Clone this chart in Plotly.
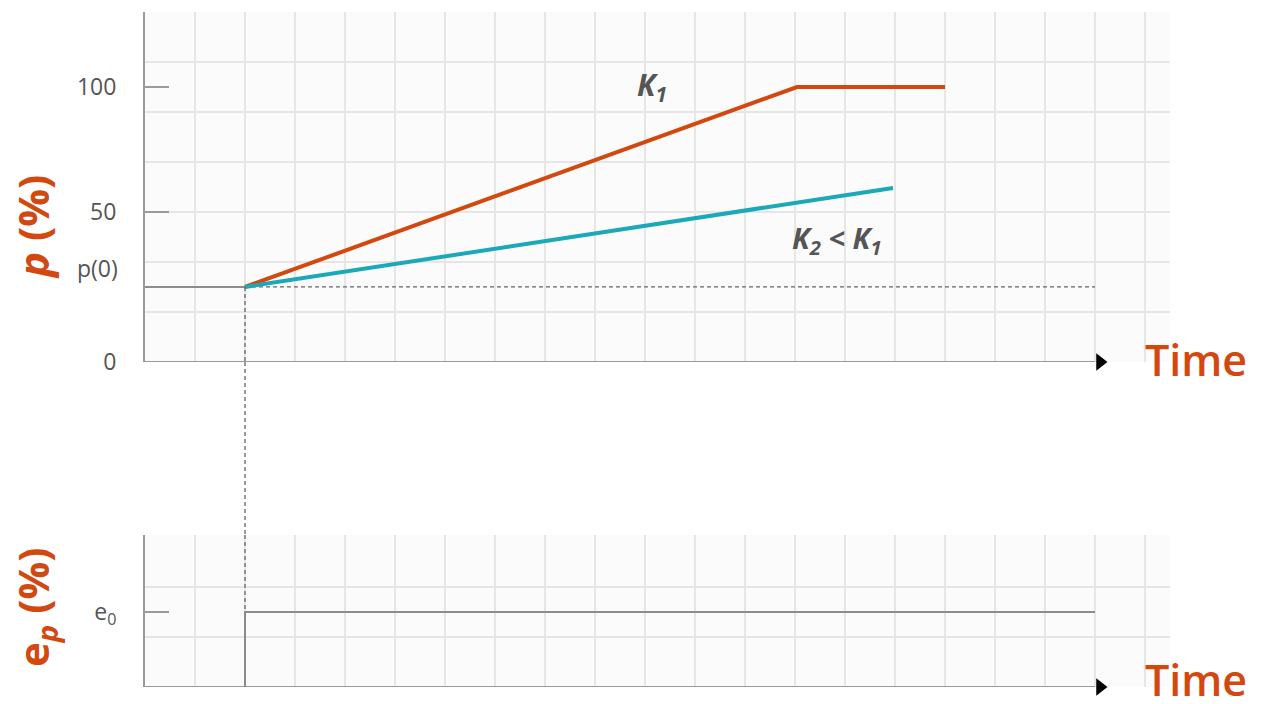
import plotly.graph_objects as go

# ---- data (time in grid steps, p in percent, e in panel units) ----
time_k1 = [2, 13.04, 16]
p_k1 = [27.3, 100, 100]
time_k2 = [2, 14.96]
p_k2 = [27.3, 63.3]
p0 = 27.3
t_start = 2
t_end = 19
e0 = 1.5

p_tick_pos = [0, 54.5, 100]
p_tick_text = ["0", "50", "100"]
e_tick_pos = [0, 1.5]
e_tick_text = ["", "e<sub>0</sub>"]

ORANGE = "#d2480f"
CYAN = "#1ba8b8"
AXIS = "#9a9a9a"
GRID = "#e6e6e6"
TEXT = "#555555"
FONT = "Open Sans"

W, H = 1261, 704
px_per_pct = 2.75          # vertical scale of the upper panel
top_dom = [(H - 362) / H, (H - 12) / H]
bot_dom = [(H - 687) / H, (H - 535) / H]
x_dom = [145 / W, 1170 / W]
x_rng = [0, 20.5]
p_rng = [0, (362 - 12) / px_per_pct]
e_rng = [0, (687 - 535) / 50]

fig = go.Figure()

# axis lines with arrowheads
for ya, yv in (("y", 0), ("y2", 0)):
    xa = "x" if ya == "y" else "x2"
    fig.add_trace(go.Scatter(x=[0, t_end], y=[yv, yv], mode="lines",
                             line=dict(color=AXIS, width=2),
                             xaxis=xa, yaxis=ya, hoverinfo="skip", showlegend=False))
    fig.add_trace(go.Scatter(x=[t_end + 0.1], y=[yv], mode="markers",
                             marker=dict(symbol="triangle-right", size=15, color="black"),
                             xaxis=xa, yaxis=ya, cliponaxis=False,
                             hoverinfo="skip", showlegend=False))

# p(0) reference lines
fig.add_trace(go.Scatter(x=[0, t_start], y=[p0, p0], mode="lines",
                         line=dict(color="#8c8c8c", width=2),
                         hoverinfo="skip", showlegend=False))
fig.add_trace(go.Scatter(x=[t_start, t_end], y=[p0, p0], mode="lines",
                         line=dict(color="#666666", width=1.3, dash="4px,3px"),
                         hoverinfo="skip", showlegend=False))

# controller outputs for two gains
fig.add_trace(go.Scatter(x=time_k1, y=p_k1, mode="lines",
                         line=dict(color=ORANGE, width=4), showlegend=False))
fig.add_trace(go.Scatter(x=time_k2, y=p_k2, mode="lines",
                         line=dict(color=CYAN, width=4), showlegend=False))

# error step
fig.add_trace(go.Scatter(x=[t_start, t_start, t_end], y=[0, e0, e0], mode="lines",
                         line=dict(color="#8c8c8c", width=2),
                         xaxis="x2", yaxis="y2", hoverinfo="skip", showlegend=False))

# vertical dashed marker linking the two panels
dash_line = dict(color="#666666", width=1.3, dash="4px,3px")
fig.add_shape(type="line", xref="x", yref="y", x0=t_start, x1=t_start, y0=p0, y1=0, line=dash_line)
fig.add_shape(type="line", xref="x", yref="paper", x0=t_start, x1=t_start,
              y0=top_dom[0], y1=bot_dom[1], line=dash_line)
fig.add_shape(type="line", xref="x2", yref="y2", x0=t_start, x1=t_start,
              y0=e_rng[1], y1=e0, line=dash_line)

common_x = dict(domain=x_dom, range=x_rng, showgrid=True, gridcolor=GRID, gridwidth=1.5,
                dtick=1, tick0=0, showticklabels=False, ticks="", zeroline=False,
                showline=False, fixedrange=True, automargin=False)

common_y = dict(ticks="inside", ticklen=24, tickwidth=2, tickcolor=AXIS,
                tickfont=dict(size=23, color=TEXT, family=FONT),
                ticklabelstandoff=22, showgrid=False, zeroline=False,
                showline=True, linecolor=AXIS, linewidth=2,
                fixedrange=True, automargin=False, tickmode="array")

fig.update_layout(
    width=W, height=H,
    autosize=False,
    margin=dict(l=0, r=0, t=0, b=0, pad=0),
    paper_bgcolor="white",
    plot_bgcolor="#fbfbfb",
    font=dict(family=FONT, color=TEXT),
    xaxis=dict(anchor="y", **common_x),
    xaxis2=dict(anchor="y2", matches="x", **common_x),
    yaxis=dict(domain=top_dom, range=p_rng, anchor="x",
               tickvals=p_tick_pos, ticktext=p_tick_text,
               minor=dict(tickmode="array",
                          tickvals=[k * 50 / px_per_pct for k in range(1, 7)],
                          showgrid=True, gridcolor=GRID, gridwidth=1.5, ticks=""),
               **common_y),
    yaxis2=dict(domain=bot_dom, range=e_rng, anchor="x2",
                tickvals=e_tick_pos, ticktext=e_tick_text,
                minor=dict(tickmode="array", tickvals=[1, 2],
                           showgrid=True, gridcolor=GRID, gridwidth=1.5, ticks=""),
                **common_y),
)

annotations = [
    # curve labels
    dict(x=9.8, y=100.5, xref="x", yref="y", xanchor="left", yanchor="middle",
         text="<b><i>K<sub>1</sub></i></b>", font=dict(size=30, color=TEXT), showarrow=False),
    dict(x=12.9, y=44.5, xref="x", yref="y", xanchor="left", yanchor="middle",
         text="<b><i>K<sub>2</sub> &lt; K<sub>1</sub></i></b>", font=dict(size=29, color=TEXT),
         showarrow=False),
    # p(0) level label
    dict(x=120 / W, y=34.2, xref="paper", yref="y", xanchor="right", yanchor="middle",
         text="p(0)", font=dict(size=23, color=TEXT), showarrow=False),
    # time-axis labels
    dict(x=19.95, y=0, xref="x", yref="y", xanchor="left", yanchor="middle", yshift=3,
         text="Time", font=dict(size=43, color=ORANGE, weight=600), showarrow=False),
    dict(x=19.95, y=0, xref="x2", yref="y2", xanchor="left", yanchor="middle", yshift=8,
         text="Time", font=dict(size=43, color=ORANGE, weight=600), showarrow=False),
    # vertical axis titles
    dict(x=33 / W, y=(H - 227) / H, xref="paper", yref="paper",
         xanchor="center", yanchor="middle", textangle=-90,
         text="<b><i>p</i> (%)</b>", font=dict(size=42, color=ORANGE), showarrow=False),
    dict(x=35 / W, y=(H - 607) / H, xref="paper", yref="paper",
         xanchor="center", yanchor="middle", textangle=-90,
         text="<b>e<sub><i>p</i></sub> (%)</b>", font=dict(size=42, color=ORANGE),
         showarrow=False),
]
fig.update_layout(annotations=annotations)

fig.write_html("out.html")
